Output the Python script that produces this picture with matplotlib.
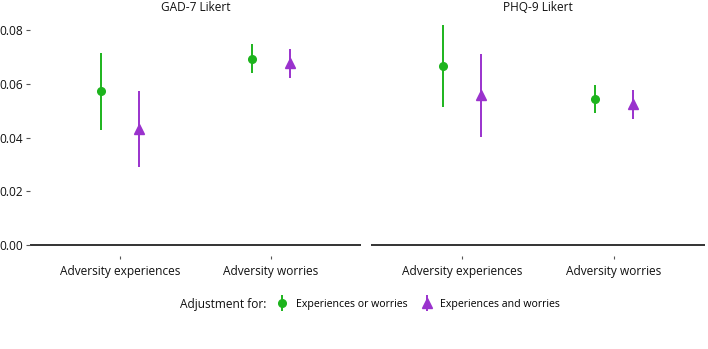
import matplotlib
matplotlib.use("Agg")
import matplotlib.pyplot as plt
from matplotlib.legend_handler import HandlerErrorbar
import numpy as np

plt.rcParams['font.family'] = ['Open Sans', 'DejaVu Sans']

panels = ["GAD-7 Likert", "PHQ-9 Likert"]
categories = ["Adversity experiences", "Adversity worries"]
series = ["Experiences or worries", "Experiences and worries"]
y_ticks = [0.0, 0.02, 0.04, 0.06, 0.08]
y_ticklabels = ["0.00", "0.02", "0.04", "0.06", "0.08"]

# estimates [panel][category]
est_sep = [[0.0573, 0.0693], [0.0667, 0.0545]]
lo_sep = [[0.0430, 0.0641], [0.0515, 0.0490]]
hi_sep = [[0.0716, 0.0749], [0.0819, 0.0596]]

est_joint = [[0.0432, 0.0679], [0.0557, 0.0524]]
lo_joint = [[0.0291, 0.0624], [0.0403, 0.0469]]
hi_joint = [[0.0572, 0.0730], [0.0710, 0.0577]]

green = "#1DB41D"
purple = "#9A32CD"
fs = 8.6

fig = plt.figure(figsize=(7.08, 3.49), dpi=100)
axes = [fig.add_axes([0.042, 0.267, 0.468, 0.693]),
        fig.add_axes([0.524, 0.267, 0.472, 0.693])]

x = np.arange(1, len(categories) + 1)
dodge = 0.125
ymax = 0.082
ylim = (-0.05 * ymax, ymax * 1.05)

for i, ax in enumerate(axes):
    ax.axhline(0, color="#333333", lw=1.4, zorder=1)
    e = np.array(est_sep[i]); l = np.array(lo_sep[i]); h = np.array(hi_sep[i])
    ax.vlines(x - dodge, l, h, color=green, lw=1.4, zorder=2)
    ax.plot(x - dodge, e, 'o', color=green, ms=5.5, zorder=3)
    e = np.array(est_joint[i]); l = np.array(lo_joint[i]); h = np.array(hi_joint[i])
    ax.vlines(x + dodge, l, h, color=purple, lw=1.4, zorder=2)
    ax.plot(x + dodge, e, '^', color=purple, ms=6.5, zorder=3)
    ax.set_xlim(0.4, 2.6)
    ax.set_ylim(*ylim)
    ax.set_xticks(x)
    ax.set_xticklabels(categories, fontsize=fs, color="#111111")
    ax.tick_params(axis='x', length=2.5, width=0.8, color="#555555", pad=4)
    for s in ax.spines.values():
        s.set_visible(False)
    ax.set_title(panels[i], fontsize=fs, color="#111111", pad=0)
    if i == 0:
        ax.set_yticks(y_ticks)
        ax.set_yticklabels(y_ticklabels, fontsize=fs, color="#111111")
        ax.tick_params(axis='y', length=3, width=0.8, color="#555555", pad=2)
    else:
        ax.set_yticks([])

h1 = axes[0].errorbar([], [], yerr=[], fmt='o', color=green, ms=5.5, elinewidth=1.4)
h2 = axes[0].errorbar([], [], yerr=[], fmt='^', color=purple, ms=6.5, elinewidth=1.4)

fig.text(180 / 708, 0.128, "Adjustment for:", fontsize=fs, color="#111111",
         ha='left', va='center')
fig.legend([h1, h2], series, loc='center left', bbox_to_anchor=(277 / 708, 0.128),
           ncol=2, frameon=False, fontsize=7.6, handlelength=1.0,
           handletextpad=0.8, columnspacing=1.3, borderpad=0, borderaxespad=0,
           handler_map={type(h1): HandlerErrorbar(xerr_size=0, yerr_size=0.75)})

fig.savefig("out.png", dpi=100)
